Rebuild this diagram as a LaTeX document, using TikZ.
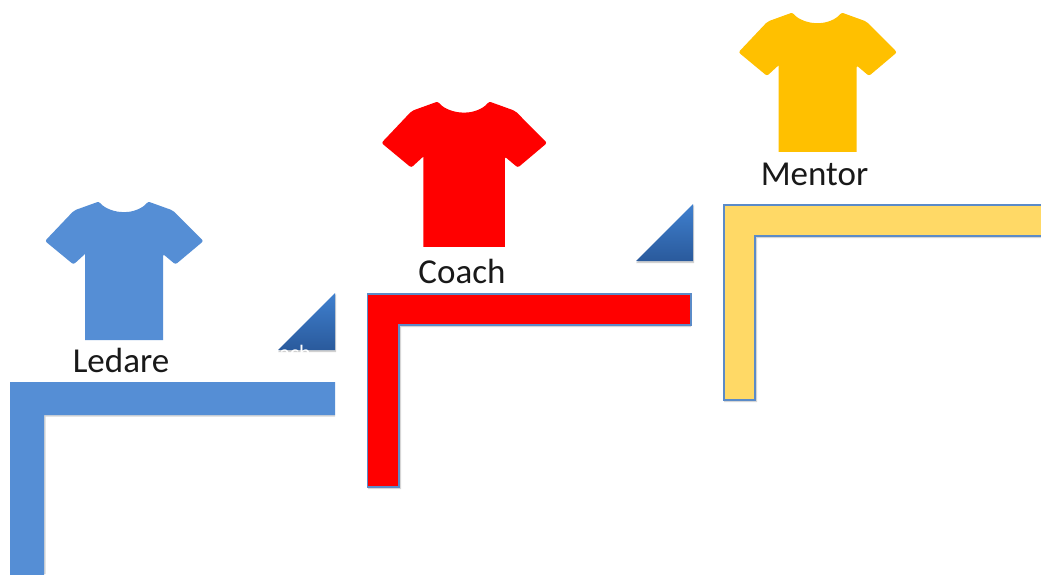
\documentclass[tikz,border=0pt]{standalone}
\usepackage{fontspec}
\setmainfont{Carlito}
\definecolor{shirtblue}{HTML}{558ED5}
\definecolor{shirtred}{HTML}{FF0000}
\definecolor{shirtgold}{HTML}{FFC000}
\definecolor{barblue}{HTML}{558ED5}
\definecolor{barred}{HTML}{FF0000}
\definecolor{bargold}{HTML}{FFD966}
\definecolor{edgeblue}{HTML}{5B8BC8}
\definecolor{tritop}{HTML}{3F80CF}
\definecolor{tribot}{HTML}{2A5A9C}
\tikzset{
  shirtpath/.style={rounded corners=2.2pt},
  label text/.style={inner sep=0pt,anchor=base,text=black!90,font=\fontsize{35}{35}\selectfont},
  tri/.style={top color=tritop,bottom color=tribot,draw=none},
  barshadow/.style={fill=black,opacity=.16,draw=none}
}
% #1 colour, #2 centre x, #3 top y, #4 x scale, #5 y scale
\newcommand{\shirtshape}[5]{%
  \begin{scope}[shift={(#2,#3)},xscale=#4,yscale=#5]
  \fill[#1,shirtpath]
    (-25,-0.5) .. controls (-19,7) and (-8,10) .. (0,10) .. controls (8,10) and (18,7) .. (24,-0.5)
    -- (49,8.5) -- (79.5,39) -- (51.5,62.5) -- (39,52) [sharp corners] -- (39,138) -- (-39,138)
    -- (-39,52) [rounded corners=2.2pt] -- (-50.5,62.5) -- (-79,39) -- (-50,8.5) -- cycle;
  \end{scope}
}
\newcommand{\triangleshape}[2]{%
  \fill[black,opacity=.18] (#1+1,#2+1) -- (#1+1,#2+59) -- (#1-57,#2+59) -- cycle;
  \shade[tri] (#1,#2) -- (#1,#2+57) -- (#1-57,#2+57) -- cycle;
}
\begin{document}
\begin{tikzpicture}[x=1pt,y=-1pt]
\fill[white] (0,0) rectangle (1041,574);
\useasboundingbox (0,0) rectangle (1041,574);
\clip (0,0) rectangle (1041,574);

% shirts
\shirtshape{shirtblue}{124}{202}{1}{1}
\shirtshape{shirtred}{464}{102}{1.045}{1.05}
\shirtshape{shirtgold}{817.5}{13}{1}{1.007}

% triangles
\triangleshape{335}{293}
\triangleshape{693}{204}

% remnant of white text overlapping the first triangle
\node[inner sep=0pt,anchor=base east,text=white,font=\fontsize{22}{22}\selectfont] (hidden) at (311,360) {ach};

% stairs: shadows
\fill[barshadow] (335,416.5) -- (45.5,416.5) -- (45.5,574) -- (44,574) -- (44,415) -- (335,415) -- cycle;
\fill[barshadow] (691,327) -- (401,327) -- (401,489) -- (368,489) -- (368,487) -- (399,487) -- (399,325) -- (691,325) -- cycle;
\fill[barshadow] (1041,238) -- (757,238) -- (757,402) -- (724,402) -- (724,400) -- (755,400) -- (755,236) -- (1041,236) -- cycle;

% stairs
\fill[barblue] (10,382) -- (335,382) -- (335,415) -- (44,415) -- (44,580) -- (10,580) -- cycle;
\filldraw[fill=barred,draw=edgeblue,line width=1.1pt] (367.5,294) -- (691,294) -- (691,325) -- (399,325) -- (399,487) -- (367.5,487) -- cycle;
\filldraw[fill=bargold,draw=edgeblue,line width=1.1pt] (724,205) -- (1050,205) -- (1050,236) -- (755,236) -- (755,400) -- (724,400) -- cycle;

% labels
\node[label text] (ledare) at (121,372) {Ledare};
\node[label text] (coach) at (462,283) {Coach};
\node[label text] (mentor) at (814.5,185) {Mentor};
\end{tikzpicture}
\end{document}
